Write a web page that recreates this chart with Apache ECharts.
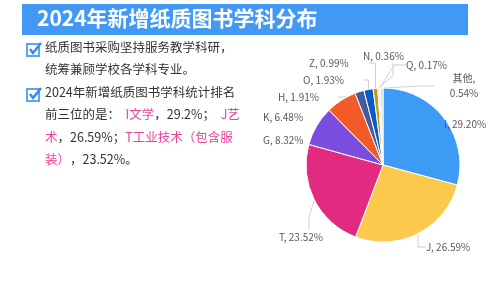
<!DOCTYPE html>
<html>
<head>
<meta charset="utf-8">
<script src="https://cdn.jsdelivr.net/npm/echarts@6/dist/echarts.min.js"></script>
<style>
  html, body { margin: 0; padding: 0; background: #fff; }
  #main { width: 500px; height: 281px; }
</style>
</head>
<body>
<div id="main"></div>
<script>
// 学科分类及占比（%）
const subjects = ['I', 'J', 'T', 'G', 'K', 'H', 'O', 'Z', 'N', 'Q', '其他'];
const shares = [29.20, 26.59, 23.52, 8.32, 6.48, 1.91, 1.93, 0.99, 0.36, 0.17, 0.54];
const sliceColors = ['#3d9af5', '#fdc94d', '#e22a80', '#7a4ddf', '#f25b27', '#46599d', '#0b5bc3', '#c99a10', '#ead2a8', '#a8372a', '#d6d6d6'];

const titleText = '2024年新增纸质图书学科分布';
const pink = '#e8449a';

// 标签摆放位置（与原图一致，手动排开小扇区的标签）
const labelPos = {
  'I': [444, 124, 'left'],
  'J': [426, 247, 'left'],
  'T': [279, 237, 'left'],
  'G': [263, 140, 'left'],
  'K': [263, 117, 'left'],
  'H': [278, 97, 'left'],
  'O': [303, 80, 'left'],
  'Z': [309, 63, 'left'],
  'N': [363, 56, 'left'],
  'Q': [406, 65, 'left'],
  '其他': [464, 86, 'center']
};

const chart = echarts.init(document.getElementById('main'));

// 勾选框图标
function checkBox(top) {
  return [
    { type: 'rect', shape: { x: 27, y: top, width: 12, height: 12 },
      style: { fill: '#fff', stroke: '#5aa5f2', lineWidth: 2 } },
    { type: 'polyline', shape: { points: [[30, top + 5], [33, top + 9], [41, top - 1]] },
      style: { stroke: '#2f8cf0', lineWidth: 2.5, fill: null } }
  ];
}

const font = 'Noto Sans CJK SC';
function line(y, rich) {
  return { type: 'text', left: 45, top: y, style: { text: rich, fontSize: 12.5, fill: '#333', fontFamily: font, rich: {
    p: { fontSize: 12.5, fill: pink, fontFamily: font },
    n: { fontSize: 12.5, fill: '#333', fontFamily: font }
  } } };
}

const option = {
  animation: false,
  graphic: [
    { type: 'rect', shape: { x: 22, y: 4, width: 446, height: 31 }, style: { fill: '#4199f5' } },
    { type: 'text', left: 37, top: 8, style: { text: titleText, fill: '#fff', fontSize: 21, fontWeight: 'bold', fontFamily: font } },
    ...checkBox(44),
    ...checkBox(89),
    line(41, '{n|纸质图书采购坚持服务教学科研，}'),
    line(63, '{n|统筹兼顾学校各学科专业。}'),
    line(86, '{n|2024年新增纸质图书学科统计排名}'),
    line(108, '{n|前三位的是：  }{p|I文学}{n|，29.2%；  }{p|J艺}'),
    line(131, '{p|术}{n|，26.59%；}{p|T工业技术（包含服}'),
    line(153, '{p|装）}{n|，23.52%。}')
  ],
  series: [{
    type: 'pie',
    center: [383, 165],
    radius: 77,
    startAngle: 90,
    clockwise: true,
    itemStyle: { borderColor: '#fff', borderWidth: 1 },
    label: {
      fontSize: 10,
      lineHeight: 15,
      color: '#595959',
      fontFamily: font,
      overflow: 'none',
      formatter: p => p.name === '其他'
        ? p.name + ',\n' + p.value.toFixed(2) + '%'
        : p.name + ', ' + p.value.toFixed(2) + '%'
    },
    labelLine: { length: 10, length2: 12, lineStyle: { color: '#cfcfcf' } },
    labelLayout: params => {
      const pos = labelPos[params.text.split(',')[0]];
      if (!pos) return {};
      return { x: pos[0], y: pos[1], align: pos[2], verticalAlign: 'middle', width: 60 };
    },
    data: subjects.map((s, i) => ({ name: s, value: shares[i], itemStyle: { color: sliceColors[i] } }))
  }]
};
chart.setOption(option);
</script>
</body>
</html>
